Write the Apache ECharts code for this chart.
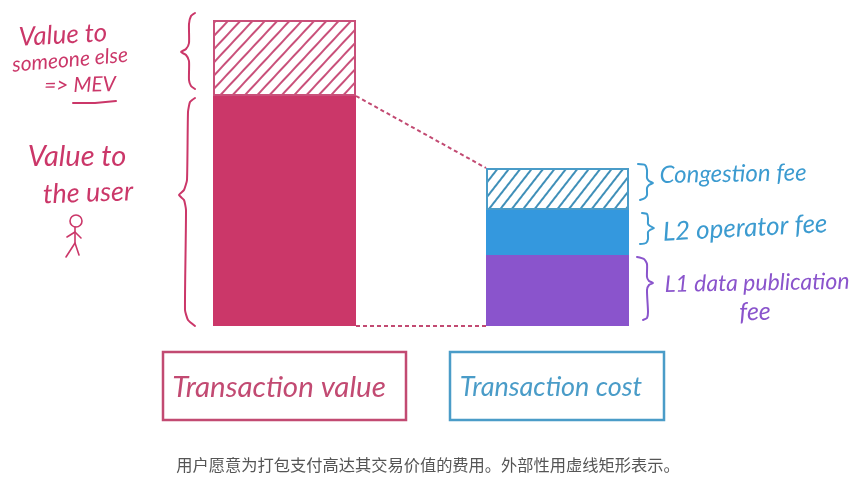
<!DOCTYPE html>
<html>
<head>
<meta charset="utf-8">
<style>html,body{margin:0;padding:0;background:#fff}#chart{width:860px;height:486px}</style>
<script src="https://cdn.jsdelivr.net/npm/echarts@6/dist/echarts.min.js"></script>
</head>
<body>
<div id="chart"></div>
<script>
var categories = ['Transaction value', 'Transaction cost'];
var userValue = [230, null];
var mevValue = [76, null];
var l1Fee = [null, 71];
var l2Fee = [null, 45];
var congestionFee = [null, 42];

var pink = '#cb3769', blue = '#3c9bd0', purple = '#8a54cc';
var handFont = 'italic 400 {s}px Lato';
var barW = 143;

function hatch(color, thick, gap, angle) {
    return {
        symbol: 'rect', symbolSize: 1, color: color,
        dashArrayX: [[1, 0]], dashArrayY: [thick, gap],
        rotation: -angle * Math.PI / 180
    };
}

function bar(name, values, color, border, decal) {
    return {
        type: 'bar', name: name, stack: 'total', data: values, barWidth: barW,
        itemStyle: { color: color, borderColor: border, borderWidth: border === color ? 0 : 2, decal: decal }
    };
}

function txt(s, x, y, size, color, rot, font) {
    return {
        type: 'text', x: x, y: y, rotation: (rot || 0) * Math.PI / 180, silent: true,
        style: { text: s, fill: color, textAlign: 'center', textVerticalAlign: 'middle',
                 font: font || handFont.replace('{s}', size) }
    };
}

function stroke(points, color, w, smooth) {
    return { type: 'polyline', silent: true, shape: { points: points, smooth: smooth || 0 },
             style: { fill: 'none', stroke: color, lineWidth: w || 2, lineCap: 'round', lineJoin: 'round' } };
}

function box(x, y, w, h, color) {
    return { type: 'rect', silent: true, shape: { x: x, y: y, width: w, height: h },
             style: { fill: 'none', stroke: color, lineWidth: 2.5 } };
}

// 手绘注释
var notes = [
    txt('Value to', 63, 35, 26, pink, 3),
    txt('someone else', 70, 60, 21, pink, 5),
    txt('=> MEV', 80, 85, 21, pink, 1),
    stroke([[73, 103], [95, 103], [116, 101]], pink, 2),
    txt('Value to', 77, 157, 29, pink, 0),
    txt('the user', 88, 193, 27, pink, 2),
    { type: 'circle', silent: true, shape: { cx: 76, cy: 221, r: 6 }, style: { fill: 'none', stroke: pink, lineWidth: 1.6 } },
    stroke([[75, 227], [75, 243], [66, 257]], pink, 1.6),
    stroke([[75, 243], [79, 255]], pink, 1.6),
    stroke([[67, 237], [75, 232], [81, 238]], pink, 1.6),
    stroke([[195, 13], [191, 16], [189, 24], [189, 43], [186, 49], [181, 52], [186, 55], [189, 61], [189, 80], [191, 86], [195, 89]], pink, 2, 0.2),
    stroke([[195, 98], [190, 102], [188, 112], [187, 180], [184, 190], [179, 195], [184, 200], [186, 210], [185, 310], [188, 320], [195, 326]], pink, 2, 0.15),
    stroke([[638, 164], [645, 165], [647, 170], [647, 178], [649, 181], [653, 183], [649, 185], [647, 188], [647, 195], [645, 198], [640, 200]], blue, 2, 0.2),
    stroke([[642, 213], [647, 214], [648, 218], [648, 224], [650, 226], [654, 228], [650, 230], [648, 232], [648, 239], [646, 243], [640, 244]], blue, 2, 0.2),
    stroke([[637, 257], [644, 259], [647, 264], [647, 277], [649, 281], [653, 283], [649, 285], [647, 290], [648, 312], [647, 318], [643, 320]], purple, 2, 0.2),
    txt('Congestion fee', 733, 174, 24, blue, 1),
    txt('L2 operator fee', 745, 228, 26, blue, 3),
    txt('L1 data publication', 757, 283, 23, purple, 1),
    txt('fee', 755, 312, 25, purple, 2),
    box(163, 352, 243, 68, '#c24a72'),
    box(450, 352, 214, 68, '#4a9cc8'),
    txt(categories[0], 279, 387, 29.5, '#c24a72', 0),
    txt(categories[1], 551, 387, 27, '#4a9cc8', 0),
    txt('用户愿意为打包支付高达其交易价值的费用。外部性用虚线矩形表示。', 428, 465, 16, '#555555', 0, '400 16.25px "Noto Sans CJK SC"')
];

// 两根柱子之间的虚线
var connectors = [
    [0, userValue[0], 1, congestionFee[1] + l2Fee[1] + l1Fee[1]],
    [0, 0, 1, 0]
];

var chart = echarts.init(document.getElementById('chart'));
chart.setOption({
    animation: false,
    backgroundColor: '#fff',
    grid: { left: 148, width: 546, top: 0, height: 326 },
    xAxis: { type: 'category', data: categories, show: false },
    yAxis: { type: 'value', min: 0, max: 326, show: false },
    graphic: notes,
    series: [
        bar('Value to the user', userValue, pink, pink),
        bar('Value to someone else', mevValue, '#fff', '#c9507a', hatch('#c9507a', 1.4, 6.5, 47)),
        bar('L1 data publication fee', l1Fee, purple, purple),
        bar('L2 operator fee', l2Fee, '#3498de', '#3498de'),
        bar('Congestion fee', congestionFee, '#fff', '#4a9cc8', hatch('#3f8fb8', 2, 6.5, 52)),
        {
            type: 'custom', silent: true, data: connectors, encode: { x: 0, y: 1 }, clip: false, z: 1,
            renderItem: function (params, api) {
                var a = api.coord([api.value(0), api.value(1)]);
                var b = api.coord([api.value(2), api.value(3)]);
                return {
                    type: 'line',
                    shape: { x1: a[0] + barW / 2, y1: a[1], x2: b[0] - barW / 2, y2: b[1] },
                    style: { stroke: '#c24a72', lineWidth: 2, lineDash: [4, 3] }
                };
            }
        }
    ]
});
</script>
</body>
</html>
